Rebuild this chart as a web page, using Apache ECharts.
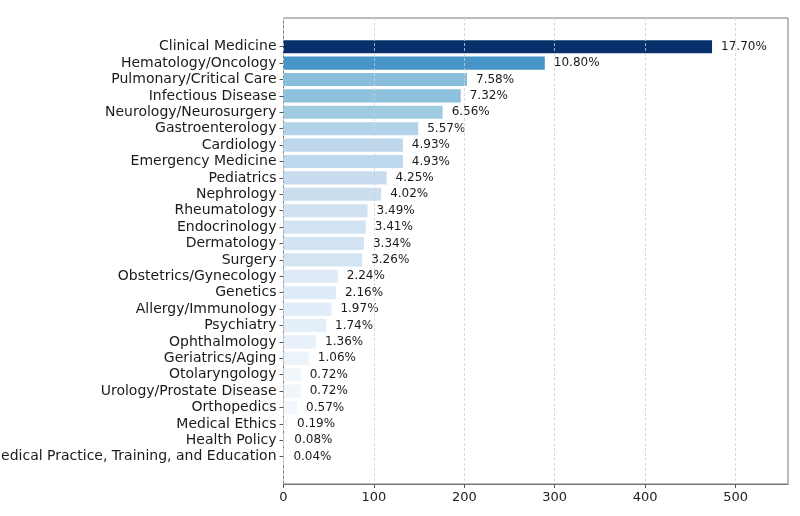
<!DOCTYPE html>
<html>
<head>
<meta charset="utf-8">
<script src="https://cdn.jsdelivr.net/npm/echarts@6/dist/echarts.min.js"></script>
<style>html,body{margin:0;padding:0;background:#fff;}#c{width:800px;height:516px;}</style>
</head>
<body>
<div id="c"></div>
<script>
const categories = ["Clinical Medicine","Hematology/Oncology","Pulmonary/Critical Care","Infectious Disease","Neurology/Neurosurgery","Gastroenterology","Cardiology","Emergency Medicine","Pediatrics","Nephrology","Rheumatology","Endocrinology","Dermatology","Surgery","Obstetrics/Gynecology","Genetics","Allergy/Immunology","Psychiatry","Ophthalmology","Geriatrics/Aging","Otolaryngology","Urology/Prostate Disease","Orthopedics","Medical Ethics","Health Policy","Medical Practice, Training, and Education"];
const counts = [474,289,203,196,176,149,132,132,114,108,93,91,89,87,60,58,53,47,36,28,19,19,15,5,2,1];
const pctLabels = ["17.70%","10.80%","7.58%","7.32%","6.56%","5.57%","4.93%","4.93%","4.25%","4.02%","3.49%","3.41%","3.34%","3.26%","2.24%","2.16%","1.97%","1.74%","1.36%","1.06%","0.72%","0.72%","0.57%","0.19%","0.08%","0.04%"];
const xTicks = [0,100,200,300,400,500];
const xMax = 558;

const blues = ["#f7fbff","#deebf7","#c6dbef","#9ecae1","#6baed6","#4292c6","#2171b5","#08519c","#08306b"];
function hex(c){return [1,3,5].map(i=>parseInt(c.substr(i,2),16));}
function cmap(t){
  t=Math.max(0,Math.min(1,t));
  const p=t*(blues.length-1), i=Math.min(Math.floor(p),blues.length-2), f=p-i;
  const a=hex(blues[i]), b=hex(blues[i+1]);
  return 'rgb('+a.map((v,k)=>Math.round(v+(b[k]-v)*f)).join(',')+')';
}
const maxV = Math.max(...counts);
const font = 'DejaVu Sans';

const chart = echarts.init(document.getElementById('c'));
chart.setOption({
  animation:false,
  backgroundColor:'#fff',
  textStyle:{fontFamily:font},
  grid:[
    {left:283.5,right:12,top:18,bottom:32,show:true,borderColor:'#777',borderWidth:1,backgroundColor:'transparent',containLabel:false,outerBoundsMode:'none'},
    {left:283.5,right:12,top:38.5,bottom:51.1,containLabel:false,outerBoundsMode:'none'}
  ],
  xAxis:[
    {type:'value',gridIndex:0,min:0,max:xMax,interval:100,z:10,
      axisLine:{show:true,lineStyle:{color:'#777'}},
      axisTick:{show:true,length:4,lineStyle:{color:'#555'},customValues:xTicks},
      axisLabel:{fontSize:13,color:'#222',margin:7,fontFamily:font,customValues:xTicks},
      splitLine:{show:true,lineStyle:{color:'#d0d0d0',type:[3,2],width:0.8}}},
    {type:'value',gridIndex:1,min:0,max:xMax,show:false}
  ],
  yAxis:[
    {type:'value',gridIndex:0,show:false},
    {type:'category',gridIndex:1,data:categories,inverse:true,
      axisLine:{show:false},
      axisTick:{show:true,length:4,alignWithLabel:true,interval:0,lineStyle:{color:'#555'}},
      axisLabel:{fontSize:14,color:'#1a1a1a',margin:7,interval:0,fontFamily:font},
      splitLine:{show:false}}
  ],
  series:[{
    type:'bar',xAxisIndex:1,yAxisIndex:1,
    barCategoryGap:'20%',
    data:counts.map(v=>({value:v,itemStyle:{color:cmap(v/maxV)}})),
    label:{show:true,position:'right',distance:9,fontSize:12,color:'#1a1a1a',fontFamily:font,
      formatter:p=>pctLabels[p.dataIndex]}
  }]
});
</script>
</body>
</html>
